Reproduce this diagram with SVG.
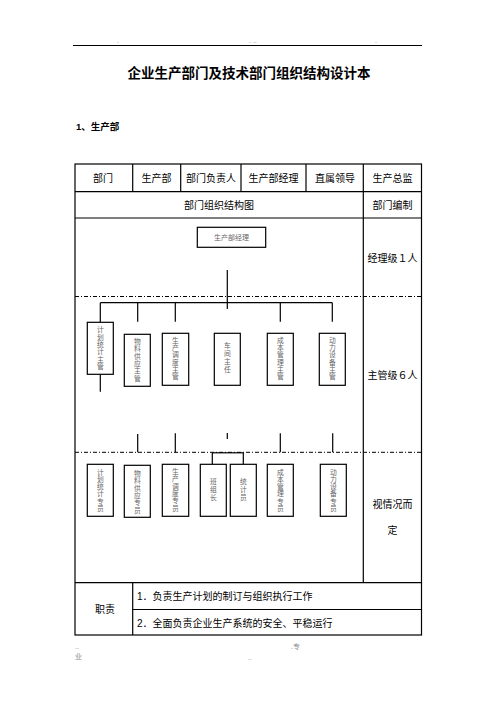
<svg xmlns="http://www.w3.org/2000/svg" width="496" height="702" viewBox="0 0 496 702">
<style>
.t{font-family:"Liberation Sans","Noto Sans CJK SC",sans-serif;fill:#000}
.c{font-size:10px;text-anchor:middle}
.g{stroke:#000;stroke-width:1.2;fill:none}
.d{stroke:#000;stroke-width:1;stroke-dasharray:4,2,1,2;fill:none}
.ln{stroke:#000;stroke-width:1.2;fill:none}
.bx{fill:#fff;stroke:#000;stroke-width:1.2}
.h{font-family:"Noto Sans CJK SC",sans-serif;font-size:7px;fill:#666;text-anchor:middle}
.v{font-family:"Noto Sans CJK SC",sans-serif;font-size:6.8px;fill:#666;text-anchor:middle;writing-mode:vertical-rl;letter-spacing:0.5px}
.v4{letter-spacing:1px}
.tiny{font-family:"Liberation Sans","Noto Sans CJK SC",sans-serif;font-size:7px;fill:#888}
</style>
<rect width="496" height="702" fill="#fff"/>
<g id="header">
<line x1="73" y1="45.5" x2="422" y2="45.5" stroke="#000" stroke-width="1"/>
<text class="tiny" x="117" y="43">.</text>
<text class="tiny" x="249" y="43">. ..</text>
<text class="tiny" x="375" y="43">.</text>
</g>
<text class="t" x="249" y="78" font-size="13.5" font-weight="bold" text-anchor="middle">企业生产部门及技术部门组织结构设计本</text>
<text class="t" x="76" y="130" font-size="9.5" font-weight="bold">1、生产部</text>
<g id="table">
<rect class="g" x="75" y="164" width="346.5" height="471"/>
<line class="g" x1="75" y1="191.7" x2="421.5" y2="191.7"/>
<line class="g" x1="75" y1="218" x2="421.5" y2="218"/>
<line class="g" x1="75" y1="582.7" x2="421.5" y2="582.7"/>
<line class="g" x1="132.7" y1="609.5" x2="421.5" y2="609.5"/>
<line class="g" x1="132.7" y1="164" x2="132.7" y2="191.7"/>
<line class="g" x1="180.7" y1="164" x2="180.7" y2="191.7"/>
<line class="g" x1="241" y1="164" x2="241" y2="191.7"/>
<line class="g" x1="306" y1="164" x2="306" y2="191.7"/>
<line class="g" x1="363.3" y1="164" x2="363.3" y2="582.7"/>
<line class="g" x1="132.7" y1="582.7" x2="132.7" y2="635"/>
<line class="d" x1="75" y1="296.5" x2="421.5" y2="296.5"/>
<line class="d" x1="75" y1="452.3" x2="421.5" y2="452.3"/>
<text class="t c" x="103" y="181.5">部门</text>
<text class="t c" x="156.5" y="181.5">生产部</text>
<text class="t c" x="211" y="181.5">部门负责人</text>
<text class="t c" x="273.5" y="181.5">生产部经理</text>
<text class="t c" x="335" y="181.5">直属领导</text>
<text class="t c" x="392.5" y="181.5">生产总监</text>
<text class="t c" x="219" y="209">部门组织结构图</text>
<text class="t c" x="392.5" y="209">部门编制</text>
<text class="t c" x="392.5" y="261.5">经理级１人</text>
<text class="t c" x="392.5" y="378.5">主管级６人</text>
<text class="t c" x="392.5" y="507.5">视情况而</text>
<text class="t c" x="392.5" y="533.5">定</text>
<text class="t c" x="105" y="613">职责</text>
<text class="t" x="137" y="599.5" font-size="10">1．负责生产计划的制订与组织执行工作</text>
<text class="t" x="137" y="626.5" font-size="10">2．全面负责企业生产系统的安全、平稳运行</text>
</g>
<g id="connectors">
<line class="ln" x1="227.3" y1="270" x2="227.3" y2="309"/>
<line class="ln" x1="100.3" y1="302.7" x2="332.3" y2="302.7"/>
<line class="ln" x1="100.3" y1="302.7" x2="100.3" y2="322.3"/>
<line class="ln" x1="137.7" y1="302.7" x2="137.7" y2="321.7"/>
<line class="ln" x1="175.3" y1="302.7" x2="175.3" y2="321.7"/>
<line class="ln" x1="280.3" y1="302.7" x2="280.3" y2="321.7"/>
<line class="ln" x1="332.3" y1="302.7" x2="332.3" y2="321.7"/>
<line class="ln" x1="100.3" y1="374.3" x2="100.3" y2="391.7"/>
<line class="ln" x1="137.7" y1="434" x2="137.7" y2="452.3"/>
<line class="ln" x1="175.3" y1="433.3" x2="175.3" y2="452.3"/>
<line class="ln" x1="227.3" y1="433" x2="227.3" y2="439"/>
<line class="ln" x1="280.3" y1="433.3" x2="280.3" y2="452.3"/>
<line class="ln" x1="332.7" y1="433.3" x2="332.7" y2="452.3"/>
<line class="ln" x1="212.3" y1="452.8" x2="243.3" y2="452.8"/>
<line class="ln" x1="212.3" y1="452.8" x2="212.3" y2="464.3"/>
<line class="ln" x1="243.3" y1="452.8" x2="243.3" y2="464.3"/>
</g>
<g id="n-manager">
<rect class="bx" x="197.3" y="227.3" width="68.4" height="20"/>
<text class="h" x="231.5" y="240">生产部经理</text>
</g>
<g id="n-s1">
<rect class="bx" x="87.3" y="322.3" width="26" height="52"/>
<text class="v" x="100.3" y="348.3">计划统计主管</text>
</g>
<g id="n-s2">
<rect class="bx" x="124.3" y="334.3" width="26" height="52"/>
<text class="v" x="137.3" y="360">物料供应主管</text>
</g>
<g id="n-s3">
<rect class="bx" x="162.3" y="333.3" width="26.4" height="52"/>
<text class="v" x="175.5" y="358.7">生产调度主管</text>
</g>
<g id="n-s4">
<rect class="bx" x="214.3" y="333.3" width="26" height="52"/>
<text class="v v4" x="227.3" y="358">车间主任</text>
</g>
<g id="n-s5">
<rect class="bx" x="267.3" y="333.3" width="26" height="52"/>
<text class="v" x="280.3" y="358.7">成本管理主管</text>
</g>
<g id="n-s6">
<rect class="bx" x="319.3" y="333.3" width="26" height="52"/>
<text class="v" x="332.3" y="358.7">动力设备主管</text>
</g>
<g id="n-e1">
<rect class="bx" x="87.3" y="464.3" width="26" height="52"/>
<text class="v" x="100.3" y="490.5">计划统计专员</text>
</g>
<g id="n-e2">
<rect class="bx" x="124.3" y="465.3" width="26" height="52"/>
<text class="v" x="137.3" y="492">物料供应专员</text>
</g>
<g id="n-e3">
<rect class="bx" x="162.3" y="464.3" width="26.4" height="52"/>
<text class="v" x="175.5" y="490">生产调度专员</text>
</g>
<g id="n-e4">
<rect class="bx" x="200.3" y="464.3" width="26" height="52"/>
<text class="v v4" x="213.3" y="490">班组长</text>
</g>
<g id="n-e5">
<rect class="bx" x="230.3" y="464.3" width="26" height="52"/>
<text class="v v4" x="243.3" y="490">统计员</text>
</g>
<g id="n-e6">
<rect class="bx" x="267.3" y="464.3" width="26" height="52"/>
<text class="v" x="280.3" y="490.5">成本管理专员</text>
</g>
<g id="n-e7">
<rect class="bx" x="320.3" y="464.3" width="26" height="52"/>
<text class="v" x="333.3" y="490.5">动力设备专员</text>
</g>
<g id="footer">
<text class="tiny" x="75" y="649">..</text>
<text class="tiny" x="75" y="659">业</text>
<text class="tiny" x="291" y="649">.专</text>
<text class="tiny" x="248" y="660">..</text>
</g>
</svg>
